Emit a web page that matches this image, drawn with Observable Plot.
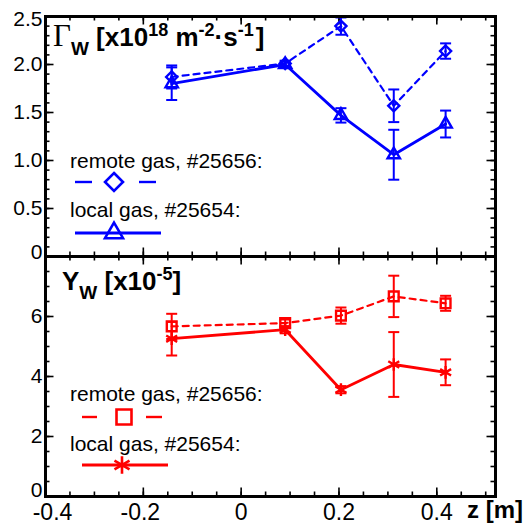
<!DOCTYPE html>
<html><head><meta charset="utf-8">
<script src="https://cdn.jsdelivr.net/npm/d3@7"></script>
<script src="https://cdn.jsdelivr.net/npm/@observablehq/plot@0.6"></script>
<style>
body{margin:0;background:#fff;}
#chart{position:relative;width:526px;height:527px;background:#fff;}
#chart svg{display:block;overflow:visible;}
</style></head><body><div id="chart"></div>
<script>
// ---- data ----
const zPositions = [-0.142, 0.090, 0.204, 0.312, 0.418];
const fluxRemote    = [1.87, 2.01, 2.40, 1.57, 2.14];
const fluxRemoteErr = [0.12, 0.03, 0.09, 0.17, 0.08];
const fluxLocal     = [1.80, 2.00, 1.47, 1.06, 1.38];
const fluxLocalErr  = [0.17, 0.03, 0.075, 0.26, 0.14];
const yieldRemote    = [5.67, 5.78, 6.03, 6.67, 6.44];
const yieldRemoteErr = [0.42, 0.12, 0.27, 0.69, 0.25];
const yieldLocal     = [5.26, 5.56, 3.56, 4.40, 4.14];
const yieldLocalErr  = [0.56, 0.12, 0.12, 1.08, 0.43];

const xTickValues = [-0.4, -0.2, 0, 0.2, 0.4];
const xTickLabels = ["-0.4", "-0.2", "0", "0.2", "0.4"];
const fluxTickValues = [0, 0.5, 1.0, 1.5, 2.0, 2.5];
const fluxTickLabels = ["0", "0.5", "1.0", "1.5", "2.0", "2.5"];
const yieldTickValues = [0, 2, 4, 6];
const yieldTickLabels = ["0", "2", "4", "6"];
const legendLabels = ["remote gas, #25656:", "local gas, #25654:"];
const xAxisLabel = "z [m]";

// ---- layout ----
const W = 526, ML = 45, MR = 31, FH = 240, FW = W - ML - MR;
const xDomain = [-0.4, 0.52];
const xMinor = d3.range(-0.4, 0.5201, 0.05).map(v => +v.toFixed(2));
const sansFont = "'Liberation Sans', Arial, Helvetica, sans-serif";
// small label nudges at the frame corners (pixels)
const xLabelDx = new Map([[-0.4, 7], [-0.2, -3]]);

const capSymbol = {draw(ctx, size) { const r = Math.sqrt(size / Math.PI); ctx.moveTo(-r, 0); ctx.lineTo(r, 0); }};

function rows(vals, errs) { return zPositions.map((z, i) => ({z, v: vals[i], e: errs[i]})); }

function frameTicks(yMajor, yMinor) {
  const k = "black", sw = 1.6;
  return [
    Plot.ruleX(xMinor, {x: d => d, insetTop: FH - 4.5, stroke: k, strokeWidth: sw}),
    Plot.ruleX(xMinor, {x: d => d, insetBottom: FH - 4.5, stroke: k, strokeWidth: sw}),
    Plot.ruleX(xTickValues, {x: d => d, insetTop: FH - 8.5, stroke: k, strokeWidth: sw}),
    Plot.ruleX(xTickValues, {x: d => d, insetBottom: FH - 8.5, stroke: k, strokeWidth: sw}),
    Plot.ruleY(yMinor, {y: d => d, insetRight: FW - 4.5, stroke: k, strokeWidth: sw}),
    Plot.ruleY(yMinor, {y: d => d, insetLeft: FW - 4.5, stroke: k, strokeWidth: sw}),
    Plot.ruleY(yMajor, {y: d => d, insetRight: FW - 8.5, stroke: k, strokeWidth: sw}),
    Plot.ruleY(yMajor, {y: d => d, insetLeft: FW - 8.5, stroke: k, strokeWidth: sw})
  ];
}

function seriesMarks(data, color, dashed, symbol, r) {
  return [
    Plot.line(data, {x: "z", y: "v", stroke: color, strokeWidth: dashed ? 2.2 : 2.8, strokeDasharray: dashed ? "6,5" : null}),
    Plot.ruleX(data, {x: "z", y1: d => d.v - d.e, y2: d => d.v + d.e, stroke: color, strokeWidth: 2}),
    Plot.dot(data, {x: "z", y: d => d.v + d.e, symbol: capSymbol, r: 5.5, stroke: color, strokeWidth: 2}),
    Plot.dot(data, {x: "z", y: d => d.v - d.e, symbol: capSymbol, r: 5.5, stroke: color, strokeWidth: 2}),
    Plot.dot(data, {x: "z", y: "v", symbol, r, stroke: color, strokeWidth: 2.4, fill: "none"})
  ];
}

function makePanel({height, marginTop, marginBottom, yDomain, yMajor, yLabels, yMinor, yDy, remote, local, color, remoteSym, remoteR, localSym, localR, xLabels}) {
  const yMap = new Map(yMajor.map((v, i) => [v, yLabels[i]]));
  const xMap = new Map(xTickValues.map((v, i) => [v, xTickLabels[i]]));
  const marks = [
    ...frameTicks(yMajor, yMinor),
    ...seriesMarks(remote, color, true, remoteSym, remoteR),
    ...seriesMarks(local, color, false, localSym, localR),
    Plot.frame({stroke: "black", strokeWidth: 3}),
    ...yMajor.map(v => Plot.axisY({ticks: [v], tickFormat: d => yMap.get(d), tickSize: 0, tickPadding: 3, fontSize: 21, label: null, dy: yDy.get(v) || 0}))
  ];
  if (xLabels) marks.push(...xTickValues.map(v => Plot.axisX({ticks: [v], tickFormat: d => xMap.get(d), tickSize: 0, tickPadding: 7, fontSize: 23, label: null, dx: xLabelDx.get(v) || 0})));
  return Plot.plot({
    width: W, height, marginLeft: ML, marginRight: MR, marginTop, marginBottom,
    style: {background: "transparent", overflow: "visible", fontFamily: sansFont, color: "black"},
    x: {domain: xDomain, label: null, axis: null},
    y: {domain: yDomain, label: null, axis: null},
    marks
  });
}

const topPanel = makePanel({
  height: 256, marginTop: 16, marginBottom: 0, yDomain: [0, 2.5],
  yMajor: fluxTickValues, yLabels: fluxTickLabels, yMinor: d3.range(0, 2.5001, 0.1).map(v => +v.toFixed(1)),
  yDy: new Map([[2.5, 3], [0, -4]]),
  remote: rows(fluxRemote, fluxRemoteErr), local: rows(fluxLocal, fluxLocalErr),
  color: "#0000ff", remoteSym: "diamond2", remoteR: 5, localSym: "triangle2", localR: 5.9, xLabels: false
});
const bottomPanel = makePanel({
  height: 271, marginTop: 0, marginBottom: 31, yDomain: [0, 8],
  yMajor: yieldTickValues, yLabels: yieldTickLabels, yMinor: d3.range(0, 8.001, 0.5),
  yDy: new Map([[0, -6]]),
  remote: rows(yieldRemote, yieldRemoteErr), local: rows(yieldLocal, yieldLocalErr),
  color: "#ff0000", remoteSym: "square2", remoteR: 6.2, localSym: "asterisk", localR: 6, xLabels: true
});

// ---- annotations: titles and legends ----
function addTitle(svg, x, y, parts) {
  const t = d3.select(svg).append("text").attr("x", x).attr("y", y).attr("text-anchor", "start")
    .attr("font-family", sansFont).attr("font-weight", "bold").attr("font-size", 26).attr("fill", "black");
  for (const p of parts) {
    const s = t.append("tspan").text(p.text);
    if (p.size) s.attr("font-size", p.size);
    if (p.dy) s.attr("dy", p.dy);
    if (p.dx) s.attr("dx", p.dx);
    if (p.family) s.attr("font-family", p.family);
    if (p.weight) s.attr("font-weight", p.weight);
  }
}
function addLegend(svg, color, entries) {
  const g = d3.select(svg).append("g");
  for (const e of entries) {
    g.append("text").attr("x", e.tx).attr("y", e.ty).attr("text-anchor", "start").text(e.label)
      .attr("font-family", sansFont).attr("font-size", 21).attr("fill", "black");
    for (const [a, b] of e.segs) {
      g.append("line").attr("x1", a).attr("x2", b).attr("y1", e.ly).attr("y2", e.ly)
        .attr("stroke", color).attr("stroke-width", e.sw);
    }
    g.append("path").attr("transform", `translate(${e.sx},${e.ly})`)
      .attr("d", d3.symbol().type(e.sym).size(e.size)())
      .attr("fill", "none").attr("stroke", color).attr("stroke-width", 2.6);
  }
}

addTitle(topPanel, 53, 46, [
  {text: "Γ", family: "'Liberation Serif', 'DejaVu Serif', serif", weight: "normal", size: 31},
  {text: "W", size: 19, dy: 9},
  {text: " [x10", dy: -9},
  {text: "18", size: 18, dy: -10},
  {text: " m", dy: 10},
  {text: "-2", size: 18, dy: -10},
  {text: "·s", dy: 10},
  {text: "-1", size: 18, dy: -10},
  {text: "]", dy: 10, dx: 2}
]);
addTitle(bottomPanel, 62, 34, [
  {text: "Y"},
  {text: "W", size: 19, dy: 9},
  {text: " [x10", dy: -9},
  {text: "-5", size: 18, dy: -10},
  {text: "]", dy: 10}
]);

addLegend(topPanel, "#0000ff", [
  {label: legendLabels[0], tx: 70, ty: 168, ly: 182, segs: [[75, 92], [139, 156]], sx: 114, sym: d3.symbolDiamond2, size: 206, sw: 2.4},
  {label: legendLabels[1], tx: 70, ty: 217, ly: 233, segs: [[75, 161]], sx: 114, sym: d3.symbolTriangle2, size: 232, sw: 2.8}
]);
addLegend(bottomPanel, "#ff0000", [
  {label: legendLabels[0], tx: 70, ty: 145, ly: 161, segs: [[82, 97], [146, 162]], sx: 124, sym: d3.symbolSquare2, size: 286, sw: 2.4},
  {label: legendLabels[1], tx: 70, ty: 195, ly: 209, segs: [[82, 168]], sx: 122, sym: d3.symbolAsterisk, size: 212, sw: 2.8}
]);

d3.select(bottomPanel).append("text").attr("x", 523).attr("y", 262).attr("text-anchor", "end")
  .attr("font-family", sansFont).attr("font-weight", "bold").attr("font-size", 24).attr("fill", "black").text(xAxisLabel);

const chart = document.getElementById("chart");
chart.appendChild(topPanel);
chart.appendChild(bottomPanel);
</script></body></html>
